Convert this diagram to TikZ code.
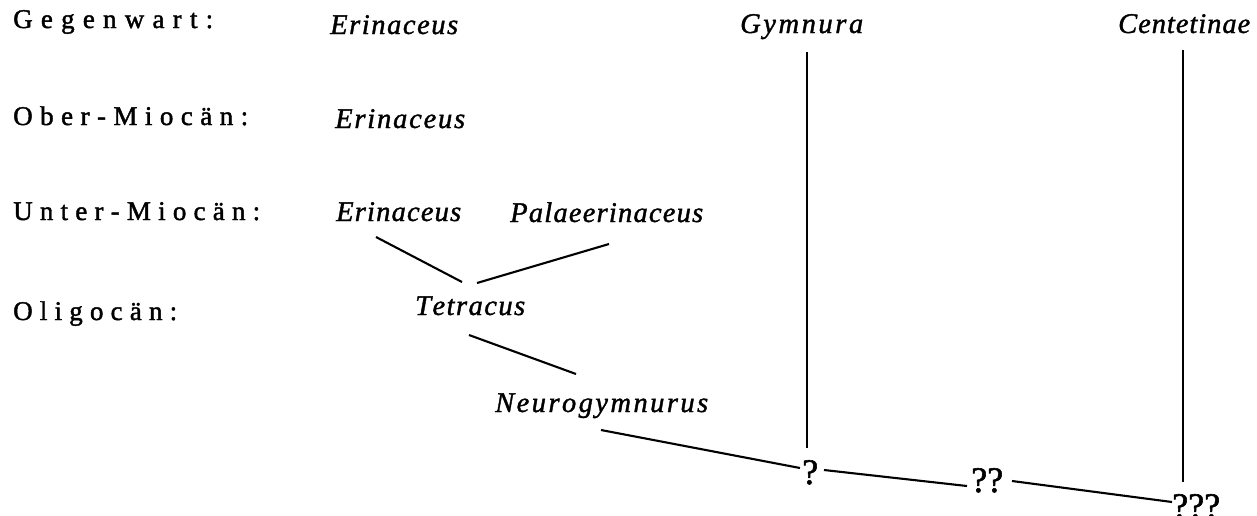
\documentclass[tikz,border=0pt]{standalone}
\usepackage{fontspec}
\setmainfont{Liberation Serif}
\newfontfamily\heavyserif[FakeBold=1.6]{Liberation Serif}
\newfontfamily\heavyitalic[FakeBold=1.3,UprightFont={* Italic}]{Liberation Serif}
\usetikzlibrary{calc}

% set a word letter by letter, spread evenly over a given width (in pt)
\def\spreadfirst#1{#1\spreadrest}
\def\spreadrest#1{\ifx#1\relax\else\hfil#1\expandafter\spreadrest\fi}
\newcommand\spread[2]{\makebox[#1pt][s]{\spreadfirst#2\relax}}

\tikzset{
  era/.style={anchor=base west, inner sep=0pt, font=\heavyserif\fontsize{27}{30}\selectfont},
  taxon/.style={anchor=base west, inner sep=0pt, font=\heavyitalic\fontsize{28.5}{32}\selectfont},
  query/.style={anchor=base west, inner sep=0pt, font=\heavyserif\fontsize{36}{40}\selectfont},
  branch/.style={line width=2.1pt}
}

\begin{document}
\begin{tikzpicture}[x=1pt, y=-1pt]
\path[use as bounding box] (0,0) rectangle (1257,515);
\clip (0,0) rectangle (1257,515);

% geological periods
\node[era] (gegen) at (13,28)  {\spread{200}{Gegenwart:}};
\node[era] (ober)  at (13,125) {\spread{235}{Ober-Miocän:}};
\node[era] (unter) at (13,220) {\spread{247}{Unter-Miocän:}};
\node[era] (oligo) at (13,320) {\spread{164}{Oligocän:}};

% genera
\node[taxon] (erin1) at (330,34)  {\spread{128}{Erinaceus}};
\node[taxon] (gym)   at (740,33)  {\spread{123}{Gymnura}};
\node[taxon] (cent)  at (1118,33) {\spread{132}{Centetinae}};
\node[taxon] (erin2) at (335,128) {\spread{130}{Erinaceus}};
\node[taxon] (erin3) at (336,221) {\spread{125}{Erinaceus}};
\node[taxon] (palae) at (510,222) {\spread{193}{Palaeerinaceus}};
\node[taxon] (tetr)  at (415,315) {\spread{110}{Tetracus}};
\node[taxon] (neuro) at (495,412) {\spread{213}{Neurogymnurus}};

% uncertain roots
\node[query] (q1) at (802,484)  {?};
\node[query] (q2) at (971,492)  {\spread{30}{??}};
\node[query] (q3) at (1172,518) {\spread{42}{???}};

% branches
\draw[branch] ($(erin3.base west)+(40,16)$) -- ($(tetr.base west)+(47,-33)$);
\draw[branch] ($(tetr.base west)+(62,-32)$) -- ($(palae.base west)+(99,22)$);
\draw[branch] ($(tetr.base west)+(54,20)$) -- ($(neuro.base west)+(81,-38)$);
\draw[branch] ($(neuro.base west)+(106,18)$) -- ($(q1.base west)+(-2,-16)$);
\draw[branch] ($(q1.base west)+(22,-14)$) -- ($(q2.base west)+(-4,-6)$);
\draw[branch] ($(q2.base west)+(41,-11)$) -- ($(q3.base west)+(0,-16)$);
\draw[branch] ($(gym.base west)+(67,19)$) -- ($(q1.base west)+(5,-36)$);
\draw[branch] ($(cent.base west)+(65,17)$) -- ($(q3.base west)+(11,-36)$);
\end{tikzpicture}
\end{document}
